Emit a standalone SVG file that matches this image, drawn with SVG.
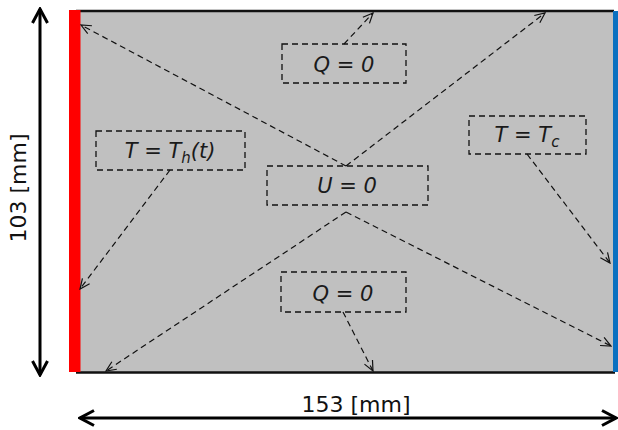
<svg xmlns="http://www.w3.org/2000/svg" width="618" height="430" viewBox="0 0 618 430">
<style>
.lbl{font-family:"DejaVu Sans","Liberation Sans",sans-serif;font-size:21px;font-style:italic;fill:#1a1a1a;text-anchor:middle}
.dim{font-family:"DejaVu Sans","Liberation Sans",sans-serif;font-size:22px;fill:#111;text-anchor:middle}
.box{fill:none;stroke:#111;stroke-width:1.3;stroke-dasharray:6 4}
.con{fill:none;stroke:#111;stroke-width:1.2;stroke-dasharray:6 4}
.dimline{fill:none;stroke:#000;stroke-width:3}
</style>
<defs>
<marker id="a" viewBox="0 0 12 12" refX="11" refY="6" markerWidth="12" markerHeight="12" markerUnits="userSpaceOnUse" orient="auto">
<path d="M1,1.5 L11,6 L1,10.5" fill="none" stroke="#111" stroke-width="1.2"/>
</marker>
<marker id="b" viewBox="0 0 18 18" refX="16" refY="9" markerWidth="18" markerHeight="18" markerUnits="userSpaceOnUse" orient="auto-start-reverse">
<path d="M2,1.5 L16,9 L2,16.5" fill="none" stroke="#000" stroke-width="3" stroke-linejoin="miter"/>
</marker>
</defs>
<g id="domain">
<rect x="78" y="11" width="536" height="361" fill="#c0c0c0"/>
<line x1="76" y1="11" x2="614" y2="11" stroke="#111" stroke-width="2.5"/>
<line x1="76" y1="372.5" x2="615" y2="372.5" stroke="#111" stroke-width="2.5"/>
<rect x="69" y="10" width="11.5" height="362" fill="#ff0000"/>
<rect x="613" y="11" width="5" height="361" fill="#0a70c0"/>
</g>
<g id="dimensions">
<line class="dimline" x1="40" y1="9" x2="40" y2="375" marker-start="url(#b)" marker-end="url(#b)"/>
<text class="dim" transform="translate(26,188) rotate(-90)">103 [mm]</text>
<line class="dimline" x1="80" y1="418" x2="616" y2="418" marker-start="url(#b)" marker-end="url(#b)"/>
<text class="dim" x="356" y="412">153 [mm]</text>
</g>
<g id="connectors">
<line class="con" x1="346" y1="166" x2="81" y2="25" marker-end="url(#a)"/>
<line class="con" x1="346" y1="166" x2="545" y2="13" marker-end="url(#a)"/>
<line class="con" x1="346" y1="212" x2="106" y2="371" marker-end="url(#a)"/>
<line class="con" x1="346" y1="212" x2="611" y2="346" marker-end="url(#a)"/>
<line class="con" x1="344" y1="44" x2="373" y2="13" marker-end="url(#a)"/>
<line class="con" x1="170" y1="170" x2="80" y2="289" marker-end="url(#a)"/>
<line class="con" x1="527" y1="154" x2="610" y2="263" marker-end="url(#a)"/>
<line class="con" x1="343" y1="312" x2="373" y2="371" marker-end="url(#a)"/>
</g>
<g id="q-top">
<rect class="box" x="282" y="44" width="124" height="39"/>
<text class="lbl" x="344" y="72">Q = 0</text>
</g>
<g id="t-hot">
<rect class="box" x="96" y="131" width="149" height="39"/>
<text class="lbl" x="170" y="158">T = T<tspan font-size="15" dy="5">h</tspan><tspan dy="-5">(t)</tspan></text>
</g>
<g id="u-zero">
<rect class="box" x="267" y="166" width="161" height="39"/>
<text class="lbl" x="347" y="193">U = 0</text>
</g>
<g id="t-cold">
<rect class="box" x="469" y="116" width="117" height="38"/>
<text class="lbl" x="527" y="142">T = T<tspan font-size="15" dy="5">c</tspan></text>
</g>
<g id="q-bottom">
<rect class="box" x="281" y="272" width="125" height="40"/>
<text class="lbl" x="343" y="301">Q = 0</text>
</g>
</svg>
